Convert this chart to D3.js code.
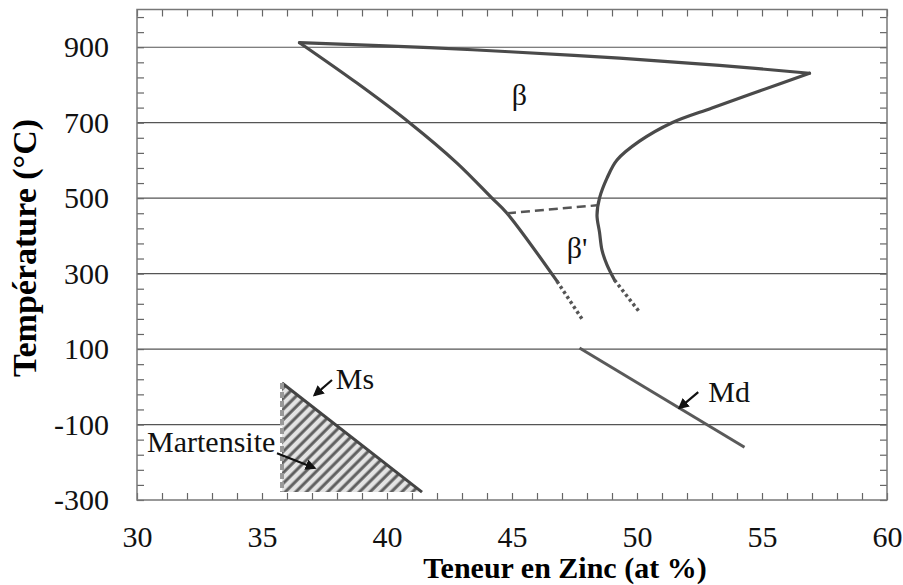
<!DOCTYPE html>
<html>
<head>
<meta charset="utf-8">
<script src="https://cdn.jsdelivr.net/npm/d3@7"></script>
<style>
  body { margin: 0; background: #fff; }
  svg text { font-family: "Liberation Serif", "Times New Roman", serif; }
</style>
</head>
<body>
<div id="chart"></div>
<script>
const svgWidth = 903;
const svgHeight = 585;
const serif = "'Liberation Serif', 'Times New Roman', serif";

// axis ticks
const xLabels = [30, 35, 40, 45, 50, 55, 60];
const yLabels = [-300, -100, 100, 300, 500, 700, 900];
const gridTemps = [-100, 100, 300, 500, 700, 900];

// phase boundaries, [zinc at %, temperature °C]
const topLine = [[36.5, 912], [41.7, 899], [44.9, 888], [49.3, 871], [53.3, 852], [56.9, 831]];
const leftLine = [[36.5, 912], [38.8, 805], [40.9, 700], [42.8, 593], [44.2, 500], [44.8, 460], [46.8, 280]];
const rightLine = [[56.9, 831], [54.9, 784], [53.0, 739], [51.4, 700], [50.1, 651], [49.2, 601], [48.8, 553],
  [48.5, 500], [48.4, 455], [48.5, 410], [48.6, 362], [48.8, 323], [49.1, 283]];
const leftDots = [[46.8, 280], [47.8, 180]];
const rightDots = [[49.1, 283], [50.1, 198]];
const tieLine = [[44.8, 460], [48.4, 481]];
const mdLine = [[47.7, 103], [54.3, -160]];
const martensite = [[35.8, 10], [41.4, -279], [35.8, -279]];

// labels and arrows
const phaseLabels = [
  { x: 45.3, y: 747, text: "β" },
  { x: 47.6, y: 341, text: "β'" }
];
const notes = [
  { text: "Ms", tx: 37.95, ty: -5, from: [37.8, 18], to: [37.1, -22] },
  { text: "Md", tx: 52.85, ty: -40, from: [52.45, -14], to: [51.7, -56] },
  { text: "Martensite", tx: 30.4, ty: -173, from: [35.6, -176], to: [37.1, -215] }
];

let svg = d3.select("#chart").append("svg").attr("width", svgWidth).attr("height", svgHeight)
  .attr("font-family", serif);
svg.append("rect").attr("width", svgWidth).attr("height", svgHeight).attr("fill", "#fff");

let x = d3.scaleLinear().domain([30, 60]).range([137, 887]);
let y = d3.scaleLinear().domain([-300, 1000]).range([500, 9.5]);

let defs = svg.append("defs");
let hatch = defs.append("pattern")
  .attr("id", "hatch")
  .attr("patternUnits", "userSpaceOnUse")
  .attr("width", 7.5)
  .attr("height", 7.5)
  .attr("patternTransform", "rotate(45)");
hatch.append("rect").attr("width", 7.5).attr("height", 7.5).attr("fill", "#e4e4e4");
hatch.append("line")
  .attr("x1", 2).attr("y1", 0).attr("x2", 2).attr("y2", 7.5)
  .attr("stroke", "#5f5f5f").attr("stroke-width", 3);
defs.append("marker")
  .attr("id", "arrow")
  .attr("viewBox", "0 0 10 10")
  .attr("refX", 8).attr("refY", 5)
  .attr("markerWidth", 5).attr("markerHeight", 5)
  .attr("orient", "auto")
  .append("path")
  .attr("d", "M0,0 L10,5 L0,10 Z")
  .attr("fill", "#111");

// grid
svg.append("g").selectAll("line")
  .data(gridTemps)
  .enter()
  .append("line")
  .attr("x1", x(30)).attr("x2", x(60))
  .attr("y1", d => y(d)).attr("y2", d => y(d))
  .attr("stroke", "#555").attr("stroke-width", 1.2);

// axes, ticks pointing inwards
let xMinor = d3.range(30, 61, 1);
let yMinor = d3.range(-300, 1000, 40);
let fmtX = d => xLabels.includes(d) ? d : "";
let fmtY = d => yLabels.includes(d) ? d : "";

let styleAxis = g => {
  g.attr("font-family", serif).attr("font-size", 30);
  g.select(".domain").remove();
  g.selectAll(".tick line").attr("stroke", "#666").attr("stroke-width", 1.2);
  g.selectAll(".tick text").attr("fill", "#111");
};
svg.append("g").attr("transform", `translate(0, ${y(-300)})`)
  .call(d3.axisBottom(x).tickValues(xMinor).tickSize(-7).tickPadding(26).tickFormat(fmtX))
  .call(styleAxis);
svg.append("g").attr("transform", `translate(0, ${y(1000)})`)
  .call(d3.axisTop(x).tickValues(xMinor).tickSize(-7).tickFormat(""))
  .call(styleAxis);
svg.append("g").attr("transform", `translate(${x(30)}, 0)`)
  .call(d3.axisLeft(y).tickValues(yMinor).tickSize(-7).tickPadding(28).tickFormat(fmtY))
  .call(styleAxis);
svg.append("g").attr("transform", `translate(${x(60)}, 0)`)
  .call(d3.axisRight(y).tickValues(yMinor).tickSize(-7).tickFormat(""))
  .call(styleAxis);

svg.append("rect")
  .attr("x", x(30)).attr("y", y(1000))
  .attr("width", x(60) - x(30)).attr("height", y(-300) - y(1000))
  .attr("fill", "none").attr("stroke", "#777").attr("stroke-width", 1.5);

// martensite region
let line = d3.line().x(d => x(d[0])).y(d => y(d[1]));
svg.append("path")
  .attr("d", line(martensite) + "Z")
  .attr("fill", "url(#hatch)")
  .attr("stroke", "none");
svg.append("path")
  .attr("d", line([martensite[0], martensite[1]]))
  .attr("fill", "none").attr("stroke", "#444").attr("stroke-width", 3);
svg.append("path")
  .attr("d", line([martensite[0], martensite[2]]))
  .attr("fill", "none").attr("stroke", "#999").attr("stroke-width", 4)
  .attr("stroke-dasharray", "6,3");

// phase boundaries
let curve = d3.line().x(d => x(d[0])).y(d => y(d[1])).curve(d3.curveCatmullRom.alpha(0.5));
svg.append("g").selectAll("path")
  .data([topLine, leftLine, rightLine])
  .enter()
  .append("path")
  .attr("d", curve)
  .attr("fill", "none")
  .attr("stroke", "#4a4a4a")
  .attr("stroke-width", 3.2)
  .attr("stroke-linecap", "round");
svg.append("g").selectAll("path")
  .data([leftDots, rightDots])
  .enter()
  .append("path")
  .attr("d", line)
  .attr("fill", "none")
  .attr("stroke", "#555")
  .attr("stroke-width", 3.5)
  .attr("stroke-dasharray", "3,3");
svg.append("path")
  .attr("d", line(tieLine))
  .attr("fill", "none").attr("stroke", "#555").attr("stroke-width", 2.5)
  .attr("stroke-dasharray", "9,5");
svg.append("path")
  .attr("d", line(mdLine))
  .attr("fill", "none").attr("stroke", "#5a5a5a").attr("stroke-width", 3);

// text
svg.append("g").selectAll("text")
  .data(phaseLabels)
  .enter()
  .append("text")
  .attr("x", d => x(d.x)).attr("y", d => y(d.y))
  .attr("text-anchor", "middle")
  .attr("font-size", 30)
  .attr("fill", "#111")
  .text(d => d.text);

let noteGrp = svg.append("g");
notes.forEach(d => {
  noteGrp.append("text")
    .attr("x", x(d.tx)).attr("y", y(d.ty))
    .attr("font-size", 30)
    .attr("fill", "#111")
    .text(d.text);
  noteGrp.append("line")
    .attr("x1", x(d.from[0])).attr("y1", y(d.from[1]))
    .attr("x2", x(d.to[0])).attr("y2", y(d.to[1]))
    .attr("stroke", "#111").attr("stroke-width", 2.2)
    .attr("marker-end", "url(#arrow)");
});

svg.append("text")
  .attr("x", 565).attr("y", 578)
  .attr("text-anchor", "middle")
  .attr("font-size", 30).attr("font-weight", "bold")
  .text("Teneur en Zinc (at %)");
svg.append("text")
  .attr("transform", "translate(36, 248) rotate(-90)")
  .attr("text-anchor", "middle")
  .attr("font-size", 34).attr("font-weight", "bold")
  .text("Température (°C)");
</script>
</body>
</html>
